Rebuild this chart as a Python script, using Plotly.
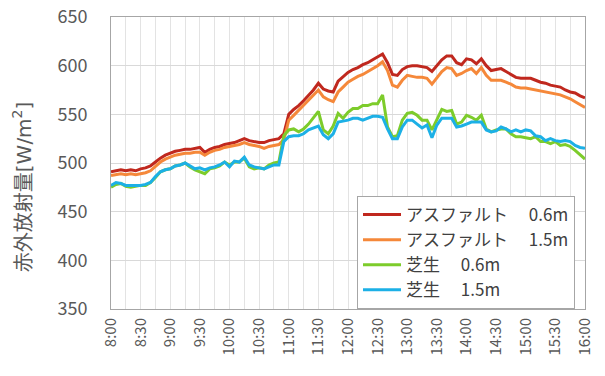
import plotly.graph_objects as go

# Measurement times: every 5 minutes from 8:00 to 16:00 (minutes after 8:00)
minutes = list(range(0, 481, 5))

tick_minutes = list(range(0, 481, 30))
tick_labels = ["8:00", "8:30", "9:00", "9:30", "10:00", "10:30", "11:00", "11:30",
               "12:00", "12:30", "13:00", "13:30", "14:00", "14:30", "15:00",
               "15:30", "16:00"]

# Infrared radiation [W/m2]
asphalt_06 = [
    491, 492, 493, 492, 493, 492, 494, 495, 497, 501, 505, 508,
    510, 512, 513, 514, 514, 515, 516, 511, 514, 516, 517, 519,
    520, 521, 523, 525, 523, 522, 521, 521, 523, 524, 525, 530,
    550, 555, 559, 564, 569, 575, 582, 576, 574, 573, 584, 589,
    593, 596, 598, 601, 603, 606, 609, 612, 603, 591, 590, 596,
    599, 600, 600, 599, 598, 594, 600, 606, 610, 610, 603, 601,
    607, 606, 602, 607, 600, 595, 596, 597, 594, 591, 588, 587,
    587, 587, 585, 583, 582, 580, 579, 578, 575, 573, 572, 569,
    567,
]
asphalt_15 = [
    487, 488, 489, 488, 489, 488, 489, 490, 492, 497, 501, 504,
    506, 508, 509, 510, 510, 511, 511, 508, 511, 513, 514, 516,
    517, 518, 519, 521, 519, 518, 517, 515, 517, 518, 519, 524,
    544, 549, 554, 559, 564, 569, 575, 568, 565, 563, 573, 578,
    583, 586, 589, 591, 594, 597, 600, 604, 595, 580, 578, 585,
    590, 589, 588, 588, 587, 581, 588, 594, 598, 597, 590, 592,
    595, 597, 592, 598, 590, 585, 585, 585, 583, 581, 578, 577,
    577, 576, 575, 574, 573, 572, 571, 570, 568, 566, 563, 560,
    557,
]
lawn_06 = [
    475, 478, 479, 476, 475, 476, 477, 477, 480, 485, 491, 493,
    494, 497, 498, 500, 496, 493, 491, 489, 494, 495, 497, 501,
    498, 501, 501, 505, 496, 494, 495, 494, 498, 500, 501, 528,
    534, 535, 532, 535, 540, 546, 553, 534, 530, 538, 551, 546,
    552, 556, 556, 559, 559, 561, 561, 570, 537, 527, 528, 544,
    551, 552, 549, 544, 544, 534, 544, 555, 553, 554, 540, 542,
    549, 547, 544, 549, 535, 532, 534, 535, 535, 530, 527, 527,
    526, 525, 527, 522, 522, 520, 522, 518, 519, 517, 513, 508,
    504,
]
lawn_15 = [
    477, 480, 479, 477, 477, 477, 477, 478, 480, 486, 491, 493,
    494, 497, 498, 500, 497, 494, 495, 493, 495, 496, 498, 501,
    496, 502, 501, 506, 498, 496, 495, 494, 496, 498, 498, 522,
    527, 528, 528, 530, 534, 536, 538, 529, 525, 530, 542, 543,
    544, 546, 546, 544, 546, 548, 548, 547, 535, 525, 525, 537,
    544, 544, 540, 536, 539, 526, 539, 546, 546, 546, 537, 538,
    540, 542, 542, 542, 534, 532, 533, 537, 535, 532, 534, 532,
    534, 533, 528, 527, 523, 525, 523, 522, 523, 522, 518, 516,
    515,
]

series = [
    ("アスファルト\u3000 0.6m", asphalt_06, "#c0281e"),
    ("アスファルト\u3000 1.5m", asphalt_15, "#f5883a"),
    ("芝生\u3000 0.6m", lawn_06, "#7dcc2b"),
    ("芝生\u3000 1.5m", lawn_15, "#1cb0e6"),
]

font_family = "Noto Sans CJK JP, Noto Sans, sans-serif"

fig = go.Figure()
for name, values, color in series:
    fig.add_trace(go.Scatter(
        x=minutes, y=values, name=name, mode="lines",
        line=dict(color=color, width=3),
    ))

fig.update_layout(
    width=605, height=376,
    margin=dict(l=111, r=20, t=17, b=67, autoexpand=False),
    paper_bgcolor="white", plot_bgcolor="white",
    font=dict(family=font_family, color="#595959"),
    showlegend=True,
    legend=dict(
        x=0.519, y=0, xanchor="left", yanchor="bottom",
        bgcolor="white", bordercolor="#a6a6a6", borderwidth=1,
        font=dict(size=17, color="#404040", family=font_family),
        tracegroupgap=0, itemwidth=38,
    ),
)

# Vertical axis title, set slightly below the axis centre
fig.add_annotation(
    text="赤外放射量[W/m<sup>2</sup>]",
    xref="paper", yref="paper", x=-0.186, y=0.42,
    xanchor="center", yanchor="middle", textangle=-90, showarrow=False,
    font=dict(size=20, color="#595959",
              family="DejaVu Sans, Noto Sans CJK JP, sans-serif"),
)

fig.update_xaxes(
    range=[0, 480], automargin=False,
    tickmode="array", tickvals=tick_minutes, ticktext=tick_labels,
    tickangle=-90, tickfont=dict(size=15, color="#595959"),
    showgrid=True, gridcolor="#e3e3e3", gridwidth=1,
    minor=dict(tickmode="linear", tick0=0, dtick=15, showgrid=True,
               gridcolor="#e3e3e3", gridwidth=1),
    showline=True, linecolor="#a6a6a6", linewidth=1, mirror=True,
    ticks="", zeroline=False, ticklabelstandoff=2,
)
fig.update_yaxes(
    range=[350, 650], dtick=50, automargin=False,
    tickfont=dict(size=18, color="#595959"),
    showgrid=True, gridcolor="#d9d9d9", gridwidth=1,
    showline=True, linecolor="#a6a6a6", linewidth=1, mirror=True,
    ticks="", zeroline=False, ticklabelstandoff=19,
)

fig.write_html("out.html")
